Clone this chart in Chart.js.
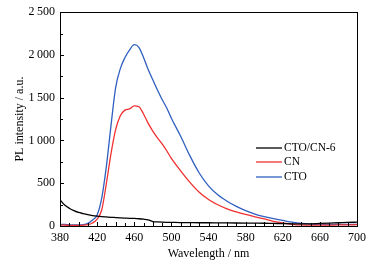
<!DOCTYPE html>
<html><head><meta charset="utf-8">
<script src="https://cdn.jsdelivr.net/npm/chart.js@4/dist/chart.umd.min.js"></script>
<style>html,body{margin:0;padding:0;background:#fff}#wrap{width:379px;height:267px}</style>
</head><body><div id="wrap"><canvas id="c" width="379" height="267"></canvas></div>
<script>
const wavelengths = [380,385,390,395,400,405,410,415,420,425,430,435,440,445,450,455,460,465,470,475,480,485,490,495,500,510,520,530,540,550,560,570,580,590,600,610,620,630,640,650,660,670,680,690,700];
const ctoCn6 = [305,245,208,180,158,145,132,122,115,110,106,102,99,96,93,90,88,85,80,72,52,48,45,43,42,40,39,38,38,37,36,35,34,33,32,30,28,25,24,26,30,34,38,42,45];
const cn = [10,10,8,8,8,10,15,35,80,190,500,850,1130,1290,1355,1370,1405,1395,1310,1200,1110,1030,960,880,790,645,510,395,310,248,200,165,135,108,82,55,35,20,12,10,10,10,12,12,15];
const cto = [20,18,15,12,12,15,30,70,130,330,700,1180,1620,1840,1970,2060,2120,2090,1970,1830,1710,1590,1480,1380,1260,1050,820,620,470,365,290,230,180,140,110,85,65,45,30,22,18,18,18,18,20];
const seriesNames = ['CTO/CN-6','CN','CTO'];
const seriesColors = ['#000000','#f03030','#2f5fbf'];
const xTicks = [380,420,460,500,540,580,620,660,700];
const yTicks = [0,500,1000,1500,2000,2500];

const FONT = 'Liberation Serif';
const L = 60, R = 357, T = 11, B = 226;

const framePlugin = {
  id: 'frame',
  afterDraw(chart) {
    const {ctx, chartArea: a, scales: {x, y}} = chart;
    ctx.save();
    ctx.strokeStyle = '#000';
    ctx.lineWidth = 1;
    ctx.strokeRect(Math.round(a.left)+0.5, Math.round(a.top)+0.5, Math.round(a.right-a.left), Math.round(a.bottom-a.top));
    ctx.beginPath();
    for (let v = 380; v <= 700; v += 10) {
      const px = Math.round(x.getPixelForValue(v)) + 0.5;
      ctx.moveTo(px, a.bottom); ctx.lineTo(px, a.bottom - (v % 20 === 0 ? 4 : 3));
    }
    for (let v = 0; v <= 2500; v += 250) {
      const py = Math.round(y.getPixelForValue(v)) + 0.5;
      ctx.moveTo(a.left, py); ctx.lineTo(a.left + (v % 500 === 0 ? 4 : 3), py);
    }
    ctx.stroke();
    // legend
    ctx.font = '11.5px "' + FONT + '"';
    ctx.textBaseline = 'middle';
    ctx.fillStyle = '#000';
    const rows = [148, 162, 177];
    chart.data.datasets.forEach((ds, i) => {
      ctx.strokeStyle = ds.borderColor; ctx.lineWidth = 1.3;
      ctx.beginPath(); ctx.moveTo(256, rows[i]); ctx.lineTo(282, rows[i]); ctx.stroke();
      ctx.fillText(ds.label, 284, rows[i]);
    });
    ctx.restore();
  }
};

new Chart(document.getElementById('c'), {
  type: 'line',
  data: {
    labels: wavelengths,
    datasets: seriesNames.map((n, i) => ({
      label: n,
      data: [ctoCn6, cn, cto][i],
      borderColor: seriesColors[i],
      borderWidth: 1.3,
      pointRadius: 0,
      cubicInterpolationMode: 'monotone',
      fill: false
    }))
  },
  options: {
    responsive: false,
    animation: false,
    devicePixelRatio: 1,
    layout: {padding: {top: T, right: 379 - R, left: 0, bottom: 0}},
    plugins: {legend: {display: false}, tooltip: {enabled: false}},
    scales: {
      x: {
        type: 'linear', min: 380, max: 700,
        afterBuildTicks: s => { s.ticks = xTicks.map(v => ({value: v})); },
        afterFit: s => { s.height = 267 - B; },
        grid: {display: false, drawTicks: false}, border: {display: false},
        ticks: {font: {family: FONT, size: 12}, color: '#000', padding: 5, maxRotation: 0},
        title: {display: true, text: 'Wavelength / nm', font: {family: FONT, size: 12}, color: '#000', padding: {top: 2, bottom: 6}}
      },
      y: {
        min: 0, max: 2500,
        afterBuildTicks: s => { s.ticks = yTicks.map(v => ({value: v})); },
        afterFit: s => { s.width = L; },
        grid: {display: false, drawTicks: false}, border: {display: false},
        ticks: {font: {family: FONT, size: 12}, color: '#000', padding: 5,
          callback: v => String(v).replace(/\B(?=(\d{3})+(?!\d))/g, '\u2009')},
        title: {display: true, text: 'PL intensity / a.u.', font: {family: FONT, size: 12}, color: '#000', padding: {top: 13, bottom: 0}}
      }
    }
  },
  plugins: [framePlugin]
});
</script></body></html>
